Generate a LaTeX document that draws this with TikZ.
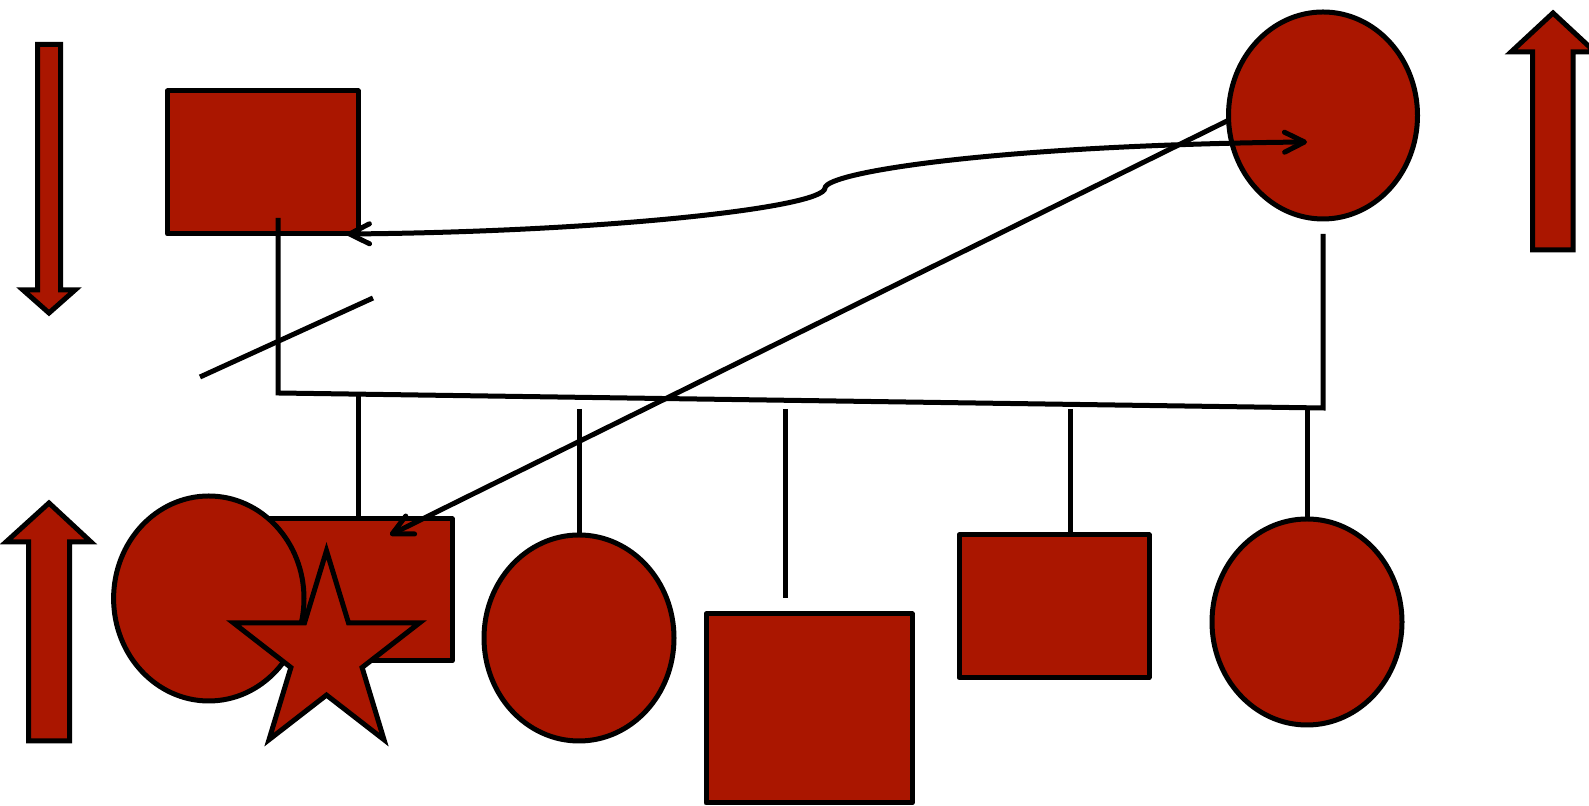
\documentclass[tikz,border=0pt]{standalone}
\usetikzlibrary{arrows.meta,shapes.geometric}
\definecolor{fillred}{RGB}{170,22,0}
\begin{document}
\begin{tikzpicture}[x=0.1mm,y=-0.1mm,
  shapeline/.style={draw=black,line width=0.5mm,fill=fillred},
  boxshape/.style={shapeline,rectangle,inner sep=0pt,outer sep=0pt,line join=round},
  ellshape/.style={shapeline,ellipse,inner sep=0pt,outer sep=0pt},
  polyshape/.style={shapeline,line join=miter},
  link/.style={draw=black,line width=0.5mm},
  >={Straight Barb[length=2mm,width=2mm,round]}]
\useasboundingbox (0,0) rectangle (1589,806);

% shapes
\node[boxshape,minimum width=19.05mm,minimum height=14.3mm] (r1) at (262.75,162.5) {};
\node[ellshape,minimum width=18.9mm,minimum height=20.7mm] (e1) at (1323,115.5) {};
\node[boxshape,minimum width=19.05mm,minimum height=14.2mm] (r2) at (356.75,590) {};
\node[ellshape,minimum width=19.04mm,minimum height=20.5mm] (e2) at (208.8,598.5) {};
\draw[polyshape] (326.5,550.7) -- (304.5,622.9) -- (233.5,622.9) -- (290.9,667.5)
  -- (269.0,739.7) -- (326.5,695.1) -- (384.0,739.7) -- (362.1,667.5)
  -- (419.5,622.9) -- (348.5,622.9) -- cycle;
\node[ellshape,minimum width=19mm,minimum height=20.6mm] (e3) at (579,638) {};
\node[boxshape,minimum width=20.6mm,minimum height=18.9mm] (r3) at (809,708.5) {};
\node[boxshape,minimum width=19mm,minimum height=14.26mm] (r4) at (1054,606.3) {};
\node[ellshape,minimum width=19mm,minimum height=20.6mm] (e4) at (1307,622) {};

% block arrows
\draw[polyshape] (37.5,44.5) -- (60.5,44.5) -- (60.5,290) -- (75,290) -- (49,313)
  -- (23,290) -- (37.5,290) -- cycle;
\draw[polyshape] (49,503) -- (91,542) -- (69.5,542) -- (69.5,741) -- (28.5,741)
  -- (28.5,542) -- (6,542) -- cycle;
\draw[polyshape] (1553,13) -- (1595,52) -- (1573,52) -- (1573,250) -- (1532.5,250)
  -- (1532.5,52) -- (1511,52) -- cycle;

% connectors
\coordinate (t1) at (278,218);
\coordinate (k1) at (278,393);
\coordinate (k2) at (1323,408);
\coordinate (t2) at (1323,234);
\draw[link] (t1) -- (k1) -- (k2) -- (t2);

\coordinate (s1) at (200,377);
\coordinate (s2) at (373,298);
\draw[link] (s1) -- (s2);

\coordinate (d1) at (358,395);
\coordinate (d2) at (579,409);
\coordinate (d3) at (785,409);
\coordinate (d3e) at (785,598);
\coordinate (d4) at (1070,409);
\coordinate (d5) at (1307,409);
\draw[link] (d1) -- (d1 |- r2.north);
\draw[link] (d2) -- (d2 |- e3.north);
\draw[link] (d3) -- (d3e);
\draw[link] (d4) -- (d4 |- r4.north);
\draw[link] (d5) -- (d5 |- e4.north);

\coordinate (c0) at (347,234);
\coordinate (cm) at (825,188);
\coordinate (c1) at (1307,142);
\draw[link,<->] (c0) .. controls (600,232) and (824,208) .. (cm)
  .. controls (826,172) and (1000,145) .. (c1);

\coordinate (a0) at (1227,121);
\coordinate (a1) at (390,535);
\draw[link,->] (a0) -- (a1);
\end{tikzpicture}
\end{document}
